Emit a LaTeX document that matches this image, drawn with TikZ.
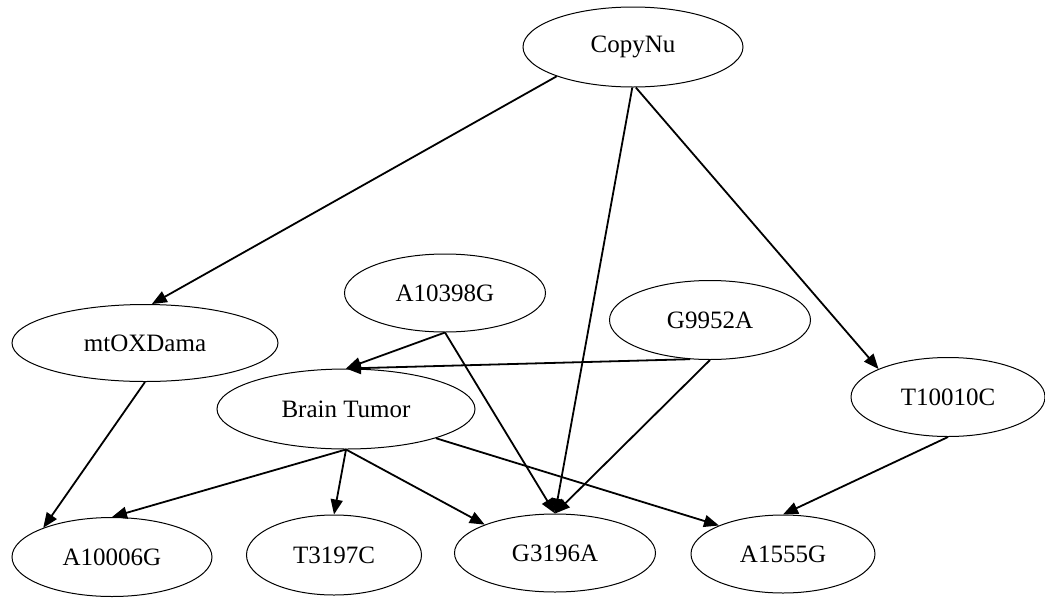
\documentclass[tikz,border=0pt]{standalone}
\usepackage{fontspec}
\setmainfont{Liberation Serif}
\usetikzlibrary{arrows.meta,shapes.geometric}
\begin{document}
\begin{tikzpicture}[x=1pt,y=-1pt,
  nd/.style={draw, ellipse, line width=1pt, inner sep=0pt, font=\fontsize{25}{29}\selectfont},
  ed/.style={line width=1.8pt, -{Triangle[length=15pt,width=12pt]}}]
\useasboundingbox (0,0) rectangle (1045,598);
\node[nd, minimum width=220pt, minimum height=80pt] (copy) at (633,47) {CopyNu};
\node[nd, minimum width=266pt, minimum height=77pt] (mtox) at (145,343) {mtOXDama};
\node[nd, minimum width=201pt, minimum height=78pt] (a10398) at (445,293) {A10398G};
\node[nd, minimum width=201pt, minimum height=79pt] (g9952) at (710,320) {G9952A};
\node[nd, minimum width=258pt, minimum height=80pt] (brain) at (346,409) {Brain Tumor};
\node[nd, minimum width=194pt, minimum height=79pt] (t10010) at (948,397) {T10010C};
\node[nd, minimum width=200pt, minimum height=79pt] (a10006) at (112,557) {A10006G};
\node[nd, minimum width=175pt, minimum height=80pt] (t3197) at (334,555) {T3197C};
\node[nd, minimum width=201pt, minimum height=78pt] (g3196) at (555,553) {G3196A};
\node[nd, minimum width=184pt, minimum height=78pt] (a1555) at (783,554) {A1555G};

\draw[ed] (copy.201) -- (mtox.80);
\draw[ed] (copy.269) -- (g3196.north);
\draw[ed] (copy.274) -- (t10010.158);
\draw[ed] (a10398.south) -- (brain.north);
\draw[ed] (a10398.south) -- (g3196.north);
\draw[ed] (g9952.243) -- (brain.north);
\draw[ed] (g9952.south) -- (g3196.north);
\draw[ed] (mtox.south) -- (a10006.157);
\draw[ed] (brain.south) -- (a10006.north);
\draw[ed] (brain.south) -- (t3197.north);
\draw[ed] (brain.south) -- (g3196.158);
\draw[ed] (brain.342) -- (a1555.156);
\draw[ed] (t10010.south) -- (a1555.north);
\end{tikzpicture}
\end{document}
